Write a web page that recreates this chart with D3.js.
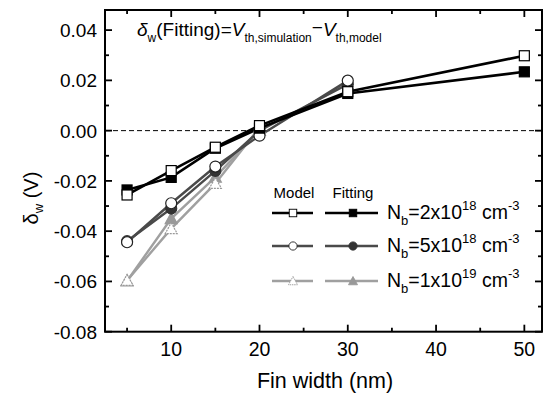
<!DOCTYPE html>
<html><head><meta charset="utf-8">
<script src="https://cdn.jsdelivr.net/npm/d3@7"></script>
<style>body{margin:0;background:#fff}svg{display:block}text{font-family:"Liberation Sans",Arial,sans-serif}</style>
</head><body>
<svg id="c" width="551" height="403"></svg>
<script>
// Data
const xTicks = [10, 20, 30, 40, 50];
const yTicks = [-0.08, -0.06, -0.04, -0.02, 0.00, 0.02, 0.04];
const x2e18 = [5, 10, 15, 20, 30, 50];
const model2e18 = [-0.0256, -0.0159, -0.0066, 0.0020, 0.0155, 0.0298];
const fit2e18   = [-0.0236, -0.0186, -0.0070, 0.0010, 0.0148, 0.0234];
const x5e18 = [5, 10, 15, 20, 30];
const model5e18 = [-0.0444, -0.0289, -0.0143, -0.0020, 0.0199];
const fit5e18   = [-0.0440, -0.0310, -0.0160, 0.0000, 0.0185];
const x1e19 = [5, 10, 15, 20];
const model1e19 = [-0.0596, -0.0390, -0.0210, 0.0012];
const fit1e19   = [-0.0598, -0.0350, -0.0185, 0.0002];
const legendLabels = [["2x10","18"],["5x10","18"],["1x10","19"]];

const svg = d3.select("#c");
const L=105, R=542, T=10, B=331.7;
const x = d3.scaleLinear().domain([2.5, 52]).range([L, R]);
const y = d3.scaleLinear().domain([-0.08, 0.048]).range([B, T]);

// zero dashed line
svg.append("line").attr("x1",L).attr("x2",R).attr("y1",y(0)).attr("y2",y(0))
  .attr("stroke","#000").attr("stroke-width",1).attr("stroke-dasharray","5,3");

// series
const series = [
  {xs:x2e18, m:model2e18, f:fit2e18, color:"#000", mcol:"#000", fcol:"#000", shape:"sq", w:2.6},
  {xs:x5e18, m:model5e18, f:fit5e18, color:"#4a4a4a", mcol:"#222", fcol:"#333", shape:"ci", w:2.4},
  {xs:x1e19, m:model1e19, f:fit1e19, color:"#a0a0a0", mcol:"#999", fcol:"#999", shape:"tr", w:2.4}
];
const line = d3.line().x(d=>x(d[0])).y(d=>y(d[1]));
function marker(g, shape, cx, cy, filled, col){
  const fill = filled ? col : "#fff";
  if(shape==="sq") g.append("rect").attr("x",cx-5).attr("y",cy-5).attr("width",10).attr("height",10)
      .attr("fill",fill).attr("stroke",col).attr("stroke-width",1.2);
  else if(shape==="ci") g.append("circle").attr("cx",cx).attr("cy",cy).attr("r",5.5)
      .attr("fill",fill).attr("stroke",col).attr("stroke-width",1.2);
  else g.append("path").attr("d",`M${cx},${cy-6}L${cx+6},${cy+5}L${cx-6},${cy+5}Z`)
      .attr("fill",fill).attr("stroke",col).attr("stroke-width",1.2)
      .attr("stroke-dasharray", filled? null : "2,1");
}
const gl = svg.append("g");
series.slice().reverse().forEach(s=>{
  gl.append("path").datum(s.xs.map((v,i)=>[v,s.m[i]])).attr("d",line)
    .attr("fill","none").attr("stroke",s.color).attr("stroke-width",s.w);
  gl.append("path").datum(s.xs.map((v,i)=>[v,s.f[i]])).attr("d",line)
    .attr("fill","none").attr("stroke",s.color).attr("stroke-width",s.w);
});
series.slice().reverse().forEach(s=>{
  s.xs.forEach((v,i)=>marker(gl, s.shape, x(v), y(s.f[i]), true, s.fcol));
  s.xs.forEach((v,i)=>marker(gl, s.shape, x(v), y(s.m[i]), false, s.mcol));
});

// frame and ticks
svg.append("rect").attr("x",L).attr("y",T).attr("width",R-L).attr("height",B-T)
  .attr("fill","none").attr("stroke","#000").attr("stroke-width",2);
const ax = svg.append("g").attr("stroke","#000").attr("stroke-width",1.8);
const xMinor = [5,15,25,35,45];
xTicks.forEach(t=>{ ax.append("line").attr("x1",x(t)).attr("x2",x(t)).attr("y1",B).attr("y2",B-7);
  ax.append("line").attr("x1",x(t)).attr("x2",x(t)).attr("y1",T).attr("y2",T+7);});
xMinor.forEach(t=>{ ax.append("line").attr("x1",x(t)).attr("x2",x(t)).attr("y1",B).attr("y2",B-4);
  ax.append("line").attr("x1",x(t)).attr("x2",x(t)).attr("y1",T).attr("y2",T+4);});
const yMinor = [-0.07,-0.05,-0.03,-0.01,0.01,0.03];
yTicks.forEach(t=>{ ax.append("line").attr("x1",L).attr("x2",L+7).attr("y1",y(t)).attr("y2",y(t));
  ax.append("line").attr("x1",R).attr("x2",R-7).attr("y1",y(t)).attr("y2",y(t));});
yMinor.forEach(t=>{ ax.append("line").attr("x1",L).attr("x2",L+4).attr("y1",y(t)).attr("y2",y(t));
  ax.append("line").attr("x1",R).attr("x2",R-4).attr("y1",y(t)).attr("y2",y(t));});

// tick labels
xTicks.forEach(t=>svg.append("text").attr("x",x(t)).attr("y",356).attr("text-anchor","middle")
  .attr("font-size",19.5).text(t));
yTicks.forEach(t=>svg.append("text").attr("x",97).attr("y",y(t)+7).attr("text-anchor","end")
  .attr("font-size",19).text(d3.format(".2f")(t).replace("−","-")));

// axis titles
svg.append("text").attr("x",325).attr("y",388).attr("text-anchor","middle").attr("font-size",21.5).text("Fin width (nm)");
const yl = svg.append("text").attr("transform","translate(38,198) rotate(-90)").attr("text-anchor","middle").attr("font-size",20);
yl.append("tspan").text("δ");
yl.append("tspan").attr("font-size",13).attr("dy",5).text("w");
yl.append("tspan").attr("dy",-5).text(" (V)");

// annotation
const an = svg.append("text").attr("x",137).attr("y",36).attr("font-size",19);
an.append("tspan").attr("font-style","italic").text("δ");
an.append("tspan").attr("font-size",12).attr("dy",6).text("w");
an.append("tspan").attr("dy",-6).text("(Fitting)=");
an.append("tspan").attr("font-style","italic").text("V");
an.append("tspan").attr("font-size",12).attr("dy",6).text("th,simulation");
an.append("tspan").attr("dy",-8).text("−");
an.append("tspan").attr("dy",2).attr("font-style","italic").text("V");
an.append("tspan").attr("font-size",12).attr("dy",6).text("th,model");

// legend
svg.append("text").attr("x",294).attr("y",198).attr("text-anchor","middle").attr("font-size",15).text("Model");
svg.append("text").attr("x",353).attr("y",198).attr("text-anchor","middle").attr("font-size",15).text("Fitting");
const rows = [213, 246, 281];
series.forEach((s,i)=>{
  const ry = rows[i];
  gl.append("line").attr("x1",272).attr("x2",313).attr("y1",ry).attr("y2",ry).attr("stroke",s.color).attr("stroke-width",s.w);
  gl.append("line").attr("x1",325).attr("x2",378).attr("y1",ry).attr("y2",ry).attr("stroke",s.color).attr("stroke-width",s.w);
  const sc = 0.75;
  const gm = svg.append("g").attr("transform",`translate(293,${ry}) scale(${sc})`);
  marker(gm, s.shape, 0, 0, false, s.mcol);
  const gf = svg.append("g").attr("transform",`translate(353,${ry}) scale(${sc})`);
  marker(gf, s.shape, 0, 0, true, s.fcol);
  const t = svg.append("text").attr("x",387).attr("y",ry+6).attr("font-size",19.5);
  t.append("tspan").text("N");
  t.append("tspan").attr("font-size",13).attr("dy",6).text("b");
  t.append("tspan").attr("dy",-6).text("="+legendLabels[i][0]);
  t.append("tspan").attr("font-size",13).attr("dy",-9).text(legendLabels[i][1]);
  t.append("tspan").attr("dy",9).text(" cm");
  t.append("tspan").attr("font-size",13).attr("dy",-9).text("-3");
});
</script>
</body></html>
